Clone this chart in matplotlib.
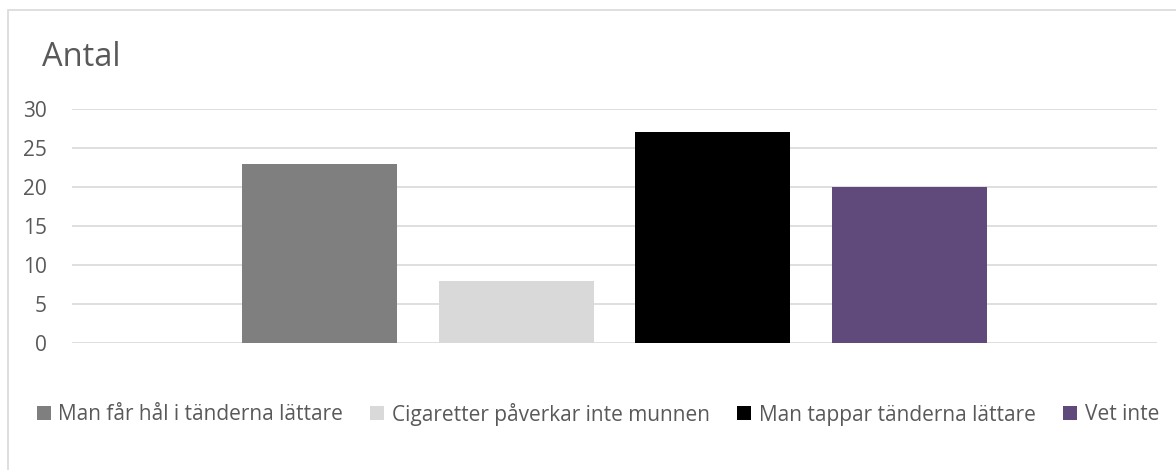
import numpy as np
import matplotlib
matplotlib.use("Agg")
import matplotlib.pyplot as plt
from matplotlib.patches import Rectangle, Patch

plt.rcParams['font.family'] = ['Open Sans', 'DejaVu Sans']

# svarsalternativ och antal svar
labels = ['Man får hål i tänderna lättare', 'Cigaretter påverkar inte munnen',
          'Man tappar tänderna lättare', 'Vet inte']
values = [23, 8, 27, 20]
colors = ['#7f7f7f', '#d9d9d9', '#000000', '#604a7b']
yticks = [0, 5, 10, 15, 20, 25, 30]

textcol = '#595959'

fig = plt.figure(figsize=(11.76, 4.70), dpi=100)
# ram runt diagrammet
fig.patches.append(Rectangle((8 / 1176, -0.1), 1.2, 1 - 10 / 470 + 0.1,
                             transform=fig.transFigure, fill=False,
                             edgecolor='#d9d9d9', lw=1.2))

ax = fig.add_axes([72 / 1176, 1 - 343 / 470, 1085 / 1176, 234 / 470])
x = np.arange(len(values))
for i in range(len(values)):
    ax.bar(x[i], values[i], width=0.79, color=colors[i], zorder=3)

ax.set_ylim(0, 30)
ax.set_xlim(1.5 - 2.761, 1.5 + 2.761)
ax.set_yticks(yticks)
ax.yaxis.grid(True, color='#d9d9d9', lw=1.2, zorder=0)
ax.set_xticks([])
for s in ax.spines.values():
    s.set_visible(False)
ax.tick_params(axis='y', length=0, pad=18, labelsize=15, labelcolor=textcol)

fig.text(42 / 1176, 1 - 66 / 470, 'Antal', fontsize=23.5, color=textcol,
         ha='left', va='baseline')

handles = [Patch(facecolor=c, edgecolor='none') for c in colors]
fig.legend(handles, labels, loc='center', bbox_to_anchor=(598 / 1176, 1 - 414 / 470),
           ncol=4, frameon=False, fontsize=15, labelcolor=textcol,
           handlelength=0.67, handleheight=0.67, handletextpad=0.38,
           columnspacing=1.3)

fig.savefig('out.png', dpi=100)
